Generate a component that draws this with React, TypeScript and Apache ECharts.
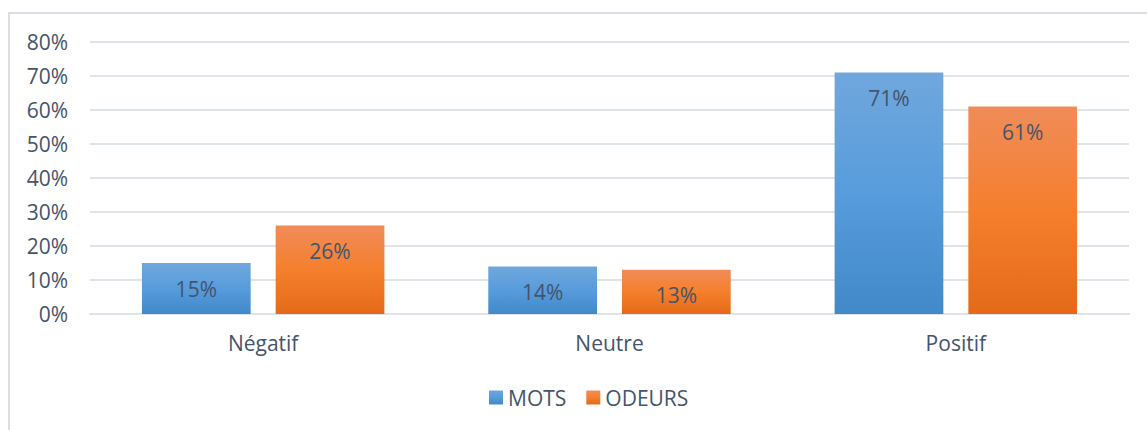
import React, { useEffect, useRef } from "react";
import * as echarts from "echarts";

const categories = ["Négatif", "Neutre", "Positif"];
const seriesNames = ["MOTS", "ODEURS"];
const motsValues = [15, 14, 71];
const odeursValues = [26, 13, 61];
const yTicks = [0, 10, 20, 30, 40, 50, 60, 70, 80];

const FONT = "'Open Sans', 'Noto Sans', sans-serif";
const TEXT = "#44546a";

export default function App() {
  const ref = useRef<HTMLDivElement>(null);
  useEffect(() => {
    document.body.style.margin = "0";
    const chart = echarts.init(ref.current!, null, { renderer: "svg" });
    const blue = new echarts.graphic.LinearGradient(0, 0, 0, 1, [
      { offset: 0, color: "#70a7dd" },
      { offset: 0.5, color: "#579cdc" },
      { offset: 1, color: "#4189c9" },
    ]);
    const orange = new echarts.graphic.LinearGradient(0, 0, 0, 1, [
      { offset: 0, color: "#f08c59" },
      { offset: 0.5, color: "#f57f2d" },
      { offset: 1, color: "#e46a18" },
    ]);
    const label = {
      show: true,
      position: "insideTop",
      distance: 15,
      formatter: "{c}%",
      color: TEXT,
      fontFamily: FONT,
      fontSize: 21,
    };
    chart.setOption({
      animation: false,
      backgroundColor: "#ffffff",
      textStyle: { fontFamily: FONT },
      graphic: [
        {
          type: "rect",
          shape: { x: 9, y: 13, width: 1300, height: 600 },
          style: { fill: "none", stroke: "#d9dde4", lineWidth: 2 },
          silent: true,
        },
      ],
      grid: { left: 90, right: 18, top: 42, bottom: 116 },
      legend: {
        bottom: 22,
        left: 489,
        itemWidth: 14,
        itemHeight: 14,
        itemGap: 20,
        padding: 0,
        icon: "rect",
        textStyle: { color: TEXT, fontSize: 21, fontFamily: FONT },
        data: seriesNames,
      },
      xAxis: {
        type: "category",
        data: categories,
        axisTick: { show: false },
        axisLine: { lineStyle: { color: "#dfe3ea", width: 2 } },
        axisLabel: { color: TEXT, fontSize: 21, fontFamily: FONT, margin: 18 },
      },
      yAxis: {
        type: "value",
        min: yTicks[0],
        max: yTicks[yTicks.length - 1],
        interval: 10,
        axisLabel: {
          color: TEXT,
          fontSize: 21,
          fontFamily: FONT,
          margin: 22,
          formatter: "{value}%",
        },
        axisLine: { show: false },
        axisTick: { show: false },
        splitLine: { lineStyle: { color: "#dfe3ea", width: 2 } },
      },
      series: [
        {
          name: seriesNames[0],
          type: "bar",
          data: motsValues,
          itemStyle: { color: blue },
          barGap: "23%",
          barCategoryGap: "30%",
          label,
        },
        {
          name: seriesNames[1],
          type: "bar",
          data: odeursValues,
          itemStyle: { color: orange },
          barGap: "23%",
          barCategoryGap: "30%",
          label,
        },
      ],
    });
    return () => chart.dispose();
  }, []);
  return <div ref={ref} style={{ width: 1147, height: 430 }} />;
}
